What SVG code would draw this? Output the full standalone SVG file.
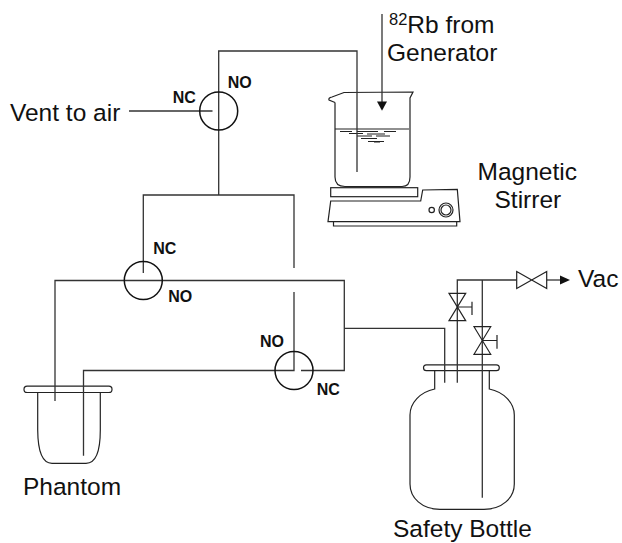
<svg xmlns="http://www.w3.org/2000/svg" width="622" height="543" viewBox="0 0 622 543">
<style>
text{font-family:"Liberation Sans",Arial,sans-serif;fill:#111}
.l{font-size:24.500px}
.b{font-size:16px;font-weight:bold}
.p{fill:none;stroke:#222;stroke-width:1.2}
.t{fill:none;stroke:#333;stroke-width:1.3}
.v{fill:none;stroke:#111;stroke-width:1.5}
.w{fill:#fff;stroke:#222;stroke-width:1.2}
</style>
<rect width="622" height="543" fill="#fff"/>
<g id="beaker">
<path class="p" d="M335 102.500L329 100Q328 98 332 97Q340 94 344 92.500L413 92L410 98V177Q410 186.500 402 186.500H345Q335 186.500 335 177V102.500"/>
<path class="p" d="M335 129H409M340 131.500H352M357 131.500H378M384 131.500H396M349 133.500H363M367 134H385M357 136H372M376 136H390M361 138.500H377M368 141.500H384M374 142H380"/>
</g>
<g id="stirrer">
<rect class="p" x="330.700" y="187.700" width="87" height="9"/>
<path class="p" d="M328 221.700L330.700 201H420.700L422.700 190L457.300 189.300L460 221.700ZM333.500 221.700V226H456.700V221.700"/>
<circle class="p" cx="431.700" cy="210" r="2.700"/>
<circle class="p" cx="446" cy="210" r="7"/>
<circle class="p" cx="446" cy="210" r="5"/>
</g>
<g id="phantom">
<path class="p" d="M37.700 392.700V430Q38 463.300 52 463.300H86Q100.300 463.300 100.300 430V392.700"/>
<rect class="w" x="24" y="386.200" width="88" height="6.300" rx="3.100" stroke-width="1.600"/>
</g>
<g id="bottle">
<path class="p" d="M434.700 371V389C420 392 410 403 410 415V484C410 498 422 509.300 440 509.300H484C502 509.300 514.300 498 514.300 484V415C514.300 403 504 392 489.300 389V371"/>
<rect class="w" x="423.500" y="364.800" width="75.800" height="5.800" rx="2.900" stroke-width="1.800"/>
</g>
<g id="connectors">
<path class="t" d="M218.700 195V51H357V172"/>
<path class="t" d="M129 111H212.500"/>
<path class="t" d="M143.300 273V195H294V268"/>
<path class="t" d="M294 292V370.500H83.500V455.700"/>
<path class="t" d="M55 401V280.500H344.300V370.500H301"/>
<path class="t" d="M344.300 328.300H444.700V382.700"/>
<path class="t" d="M457.300 382.700V280H516.700"/>
<path class="t" d="M482.300 280V497.700"/>
<path class="t" d="M546.700 280H561"/>
<path fill="#111" d="M560 275.500L570 280L560 284.500Z"/>
<path class="t" d="M382 14V102"/>
<path fill="#111" d="M377 101.500H387L382 110.700Z"/>
</g>
<g id="valve-vent"><circle class="v" cx="218.700" cy="111" r="19"/></g>
<g id="valve-phantom"><circle class="v" cx="143.300" cy="280.500" r="19"/></g>
<g id="valve-lower"><circle class="v" cx="294" cy="370.500" r="19"/></g>
<g id="valve-vac">
<path class="p" d="M516.700 271.500V288.500L546.700 271.500V288.500Z"/>
</g>
<g id="valve-a">
<path class="p" d="M449 293.300H465.700L449 320.700H465.700ZM457.300 307H472M472 301.700V315"/>
</g>
<g id="valve-b">
<path class="p" d="M474 326.700H490.700L474 354.300H490.700ZM482.300 340.500H497M497 335V348.700"/>
</g>
<g id="labels">
<text class="l" x="10" y="121">Vent to air</text>
<text class="l" x="389" y="33"><tspan font-size="16.500" dy="-8">82</tspan><tspan dy="8">Rb from</tspan></text>
<text class="l" x="387" y="60.500">Generator</text>
<text class="l" x="477.500" y="180">Magnetic</text>
<text class="l" x="494.500" y="208">Stirrer</text>
<text class="l" x="578" y="287.300">Vac</text>
<text class="l" x="23" y="495">Phantom</text>
<text class="l" x="393" y="537">Safety Bottle</text>
<text class="b" x="172.700" y="102.700">NC</text>
<text class="b" x="227.700" y="87.700">NO</text>
<text class="b" x="153.300" y="254">NC</text>
<text class="b" x="168.300" y="302">NO</text>
<text class="b" x="260" y="347.300">NO</text>
<text class="b" x="316.700" y="395">NC</text>
</g>
</svg>
